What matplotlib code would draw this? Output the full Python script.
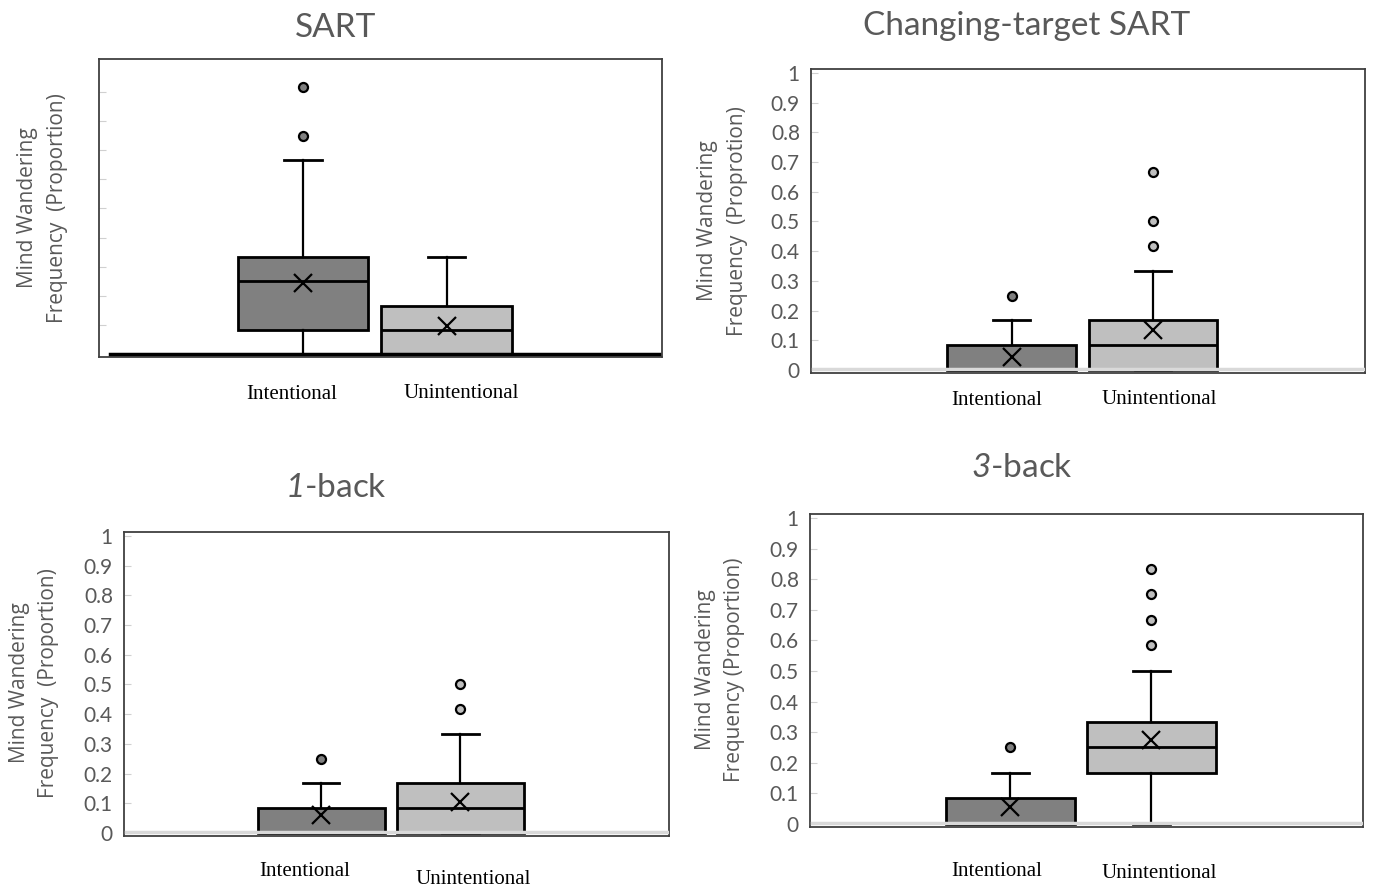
import matplotlib
matplotlib.use('Agg')
import matplotlib.pyplot as plt
import numpy as np

# digits in mathtext are drawn with the "rm" font, so make it italic Lato
plt.rcParams['mathtext.fontset'] = 'custom'
plt.rcParams['mathtext.rm'] = 'Lato:italic'
plt.rcParams['mathtext.it'] = 'Lato:italic'

# ---- data ----
groups = ['Intentional', 'Unintentional']

sart_q1 = [0.0833, 0.0]
sart_med = [0.25, 0.0833]
sart_q3 = [0.3333, 0.1667]
sart_lo = [0.0, 0.0]
sart_hi = [0.6667, 0.3333]
sart_mean = [0.245, 0.096]
sart_out = [[0.75, 0.9167], []]

ct_q1 = [0.0, 0.0]
ct_med = [0.0, 0.0833]
ct_q3 = [0.0833, 0.1667]
ct_lo = [0.0, 0.0]
ct_hi = [0.1667, 0.3333]
ct_mean = [0.044, 0.136]
ct_out = [[0.25], [0.4167, 0.5, 0.6667]]

b1_q1 = [0.0, 0.0]
b1_med = [0.0, 0.0833]
b1_q3 = [0.0833, 0.1667]
b1_lo = [0.0, 0.0]
b1_hi = [0.1667, 0.3333]
b1_mean = [0.061, 0.106]
b1_out = [[0.25], [0.4167, 0.5]]

b3_q1 = [0.0, 0.1667]
b3_med = [0.0, 0.25]
b3_q3 = [0.0833, 0.3333]
b3_lo = [0.0, 0.0]
b3_hi = [0.1667, 0.5]
b3_mean = [0.056, 0.275]
b3_out = [[0.25], [0.5833, 0.6667, 0.75, 0.8333]]

yticks = [0, 0.1, 0.2, 0.3, 0.4, 0.5, 0.6, 0.7, 0.8, 0.9, 1]
ytick_labels = ['0', '0.1', '0.2', '0.3', '0.4', '0.5', '0.6', '0.7', '0.8', '0.9', '1']

box_colors = ['#808080', '#bfbfbf']
gray_text = '#595959'

W, H = 1377, 889
fig = plt.figure(figsize=(W / 100, H / 100), dpi=100)


def px(x, y):
	# pixel position (from top-left) -> figure fraction
	return x / W, 1 - y / H


def rect(l, t, r, b):
	return [l / W, 1 - b / H, (r - l) / W, (b - t) / H]


def draw_panel(ax, q1, med, q3, lo, hi, mean, out, base_color, show_labels):
	stats = []
	for i in range(len(groups)):
		stats.append({'q1': q1[i], 'med': med[i], 'q3': q3[i], 'whislo': lo[i],
					  'whishi': hi[i], 'mean': mean[i], 'fliers': out[i], 'label': groups[i]})
	bp = ax.bxp(stats, positions=[1, 2], widths=0.91, patch_artist=True,
				showmeans=True, showfliers=True, capwidths=0.26,
				boxprops=dict(edgecolor='black', linewidth=2),
				medianprops=dict(color='black', linewidth=2),
				whiskerprops=dict(color='black', linewidth=1.6),
				capprops=dict(color='black', linewidth=2),
				meanprops=dict(marker='x', markeredgecolor='black', markersize=13, markeredgewidth=1.6),
				flierprops=dict(marker='o', markeredgecolor='black', markersize=6.5, markeredgewidth=1.6))
	for patch, c in zip(bp['boxes'], box_colors):
		patch.set_facecolor(c)
	for fl, c in zip(bp['fliers'], box_colors):
		fl.set_markerfacecolor(c)
	if base_color == 'black':
		ax.axhline(0, xmin=0.02, xmax=0.995, color=base_color, lw=2.5, zorder=4)
	else:
		ax.axhline(0.002, xmin=0.003, xmax=0.997, color=base_color, lw=2.5, zorder=4)
	ax.set_xlim(-0.42, 3.5)
	ax.set_ylim(-0.01, 1.013)
	ax.set_xticks([])
	ax.set_yticks(yticks)
	if show_labels:
		ax.set_yticklabels(ytick_labels, fontfamily='Lato', fontsize=15, color=gray_text)
	else:
		ax.set_yticklabels([])
		ax.set_yticks(yticks[1:-1])
	ax.tick_params(axis='y', direction='in', length=5, color='#d0d0d0', pad=8)
	for s in ax.spines.values():
		s.set_color('#404040')
		s.set_linewidth(1.3)


panels = [
	(rect(99, 59, 662, 357), (sart_q1, sart_med, sart_q3, sart_lo, sart_hi, sart_mean, sart_out), 'black', False),
	(rect(811, 69, 1365, 373), (ct_q1, ct_med, ct_q3, ct_lo, ct_hi, ct_mean, ct_out), '#d9d9d9', True),
	(rect(124, 532, 669, 836), (b1_q1, b1_med, b1_q3, b1_lo, b1_hi, b1_mean, b1_out), '#d9d9d9', True),
	(rect(810, 514, 1363, 827), (b3_q1, b3_med, b3_q3, b3_lo, b3_hi, b3_mean, b3_out), '#d9d9d9', True),
]

for r, d, base, lab in panels:
	ax = fig.add_axes(r)
	draw_panel(ax, *d, base, lab)

# titles
tfont = dict(fontfamily='Lato', fontsize=24, color=gray_text, va='center', ha='center')
fig.text(*px(336, 28), 'SART', **tfont)
fig.text(*px(1027, 26), 'Changing-target SART', **tfont)
fig.text(*px(336, 488), r'$1$-back', **tfont)
fig.text(*px(1022, 468), r'$3$-back', **tfont)

# y labels (two lines each)
yfont = dict(fontfamily='Open Sans', fontsize=15, color=gray_text, rotation=90, ha='center', va='center')
ylabels = [
	((28, 58), 208, 'Frequency  (Proportion)'),
	((707, 737), 221, 'Frequency  (Proprotion)'),
	((20, 49), 683, 'Frequency  (Proportion)'),
	((706, 735), 670, 'Frequency (Proportion)'),
]
for (x1, x2), yc, line2 in ylabels:
	fig.text(*px(x1, yc), 'Mind Wandering', **yfont)
	fig.text(*px(x2, yc), line2, **yfont)

# category labels
xfont = dict(fontfamily='Liberation Serif', fontsize=15, color='black', ha='center', va='center')
xlabels = [
	((292, 394), (461, 393)),
	((997, 400), (1159, 399)),
	((305, 872), (473, 879)),
	((997, 872), (1159, 873)),
]
for (a, b) in xlabels:
	fig.text(*px(*a), groups[0], **xfont)
	fig.text(*px(*b), groups[1], **xfont)

fig.savefig('out.png', dpi=100)
